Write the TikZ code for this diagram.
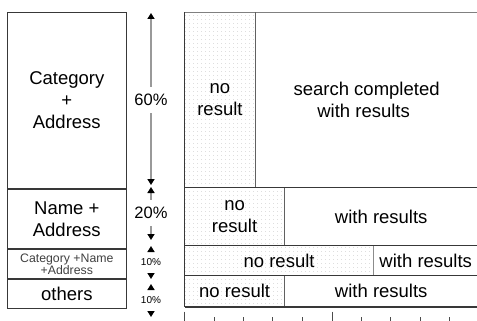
\documentclass[tikz,border=0pt]{standalone}
\usepackage{fontspec}
\setmainfont{Liberation Sans}
\usetikzlibrary{arrows.meta,patterns.meta}

% fine grey dot raster for the "no result" cells
\tikzdeclarepattern{
  name=finedots,
  bottom left={(0pt,0pt)},
  top right={(4pt,4pt)},
  tile size={(4pt,4pt)},
  code={\fill (1.6pt,1.6pt) rectangle (2.4pt,2.4pt);}
}

\newcommand\bigtxt{\fontsize{18.5}{22}\selectfont}
\newcommand\midtxt{\fontsize{16.5}{19}\selectfont}
\newcommand\smalltxt{\fontsize{12.3}{12.5}\selectfont}
\newcommand\tinytxt{\fontsize{10}{11}\selectfont}

\tikzset{
  lbox/.style={draw=black!78, line width=1.1pt, minimum width=118.5, inner sep=0pt,
    anchor=north west, align=center, font=\bigtxt},
  cell/.style={inner sep=0pt, anchor=north west, align=center, font=\bigtxt},
  nores/.style={cell, pattern=finedots, pattern color=black!30},
  frame/.style={draw=black!78, line width=1.3pt},
  toprule/.style={draw=black!50, line width=1.4pt},
  divider/.style={draw=black!62, line width=1pt},
  lightdivider/.style={draw=black!45, line width=1pt},
  dim/.style={draw=black!40, line width=1.5pt,
    -{Triangle[length=6pt,width=7pt,color=black]}},
  pct/.style={fill=white, inner sep=0pt, font=\midtxt, minimum height=26},
  pctsmall/.style={fill=white, inner sep=0pt, font=\tinytxt, minimum height=22},
  tick/.style={draw=black!70, line width=1pt}
}

\begin{document}
\begin{tikzpicture}[x=1pt, y=-1pt]
\useasboundingbox (0,0) rectangle (477,321);

% query types on the left
\node[lbox, minimum height=176] (l1) at (7,12) {Category\\+\\Address};
\node[lbox, minimum height=59] (l2) at (l1.south west) {Name +\\Address};
\node[lbox, minimum height=29, font=\smalltxt, text=black!75] (l3) at (l2.south west)
  {Category +Name\\+Address};
\node[lbox, minimum height=29] (l4) at (l3.south west) {others};

% share of each query type
\coordinate (u60) at (151,13);
\coordinate (d60) at (151,185);
\node[pct] (t60) at (151,100) {60\%};
\draw[dim] (t60) -- (u60);
\draw[dim] (t60) -- (d60);

\coordinate (u20) at (151,187);
\coordinate (d20) at (151,240);
\node[pct] (t20) at (151,213) {20\%};
\draw[dim] (t20) -- (u20);
\draw[dim] (t20) -- (d20);

\coordinate (u10a) at (151,246);
\coordinate (d10a) at (151,279);
\node[pctsmall] (t10a) at (151,262.5) {10\%};
\draw[dim] (t10a) -- (u10a);
\draw[dim] (t10a) -- (d10a);

\coordinate (u10b) at (151,284);
\coordinate (d10b) at (151,317);
\node[pctsmall] (t10b) at (151,300) {10\%};
\draw[dim] (t10b) -- (u10b);
\draw[dim] (t10b) -- (d10b);

% search outcomes per query type
\node[nores, minimum width=70.5, minimum height=174.5] (r1a) at (184.5,12.5) {no\\result};
\node[cell, minimum width=222, minimum height=174.5] (r1b) at (r1a.north east)
  {search completed\\with results\hspace*{6pt}};
\node[nores, minimum width=99.8, minimum height=58] (r2a) at (r1a.south west) {no\\result};
\node[cell, minimum width=192.7, minimum height=58] (r2b) at (r2a.north east) {with results};
\node[nores, minimum width=188.8, minimum height=29.5] (r3a) at (r2a.south west) {no result};
\node[cell, minimum width=103.7, minimum height=29.5] (r3b) at (r3a.north east) {with results};
\node[nores, minimum width=99.8, minimum height=30.8] (r4a) at (r3a.south west) {no result};
\node[cell, minimum width=192.7, minimum height=30.8] (r4b) at (r4a.north east) {with results};

% cell borders
\draw[toprule] (r1a.north west) -- (r1b.north east);
\draw[divider] (r1a.north east) -- (r1a.south east);
\draw[divider] (r2a.north east) -- (r2a.south east);
\draw[lightdivider] (r3a.north east) -- (r3a.south east);
\draw[divider] (r4a.north east) -- (r4a.south east);
\draw[frame] (r1a.south west) -- (r1b.south east);
\draw[frame] (r2a.south west) -- (r2b.south east);
\draw[frame] (r3a.south west) -- (r3b.south east);
\draw[frame] (r4a.south west) -- (r4b.south east);
\draw[frame] (r1a.north west) -- (r4a.south west);

% scale ticks along the bottom
\foreach \x in {184.5,332.3} \draw[tick] (\x,311.5) -- (\x,321);
\foreach \x in {214.3,243.3,272.7,302.7,361.7,390.7,420,449.3} \draw[tick] (\x,317) -- (\x,321);
\end{tikzpicture}
\end{document}
